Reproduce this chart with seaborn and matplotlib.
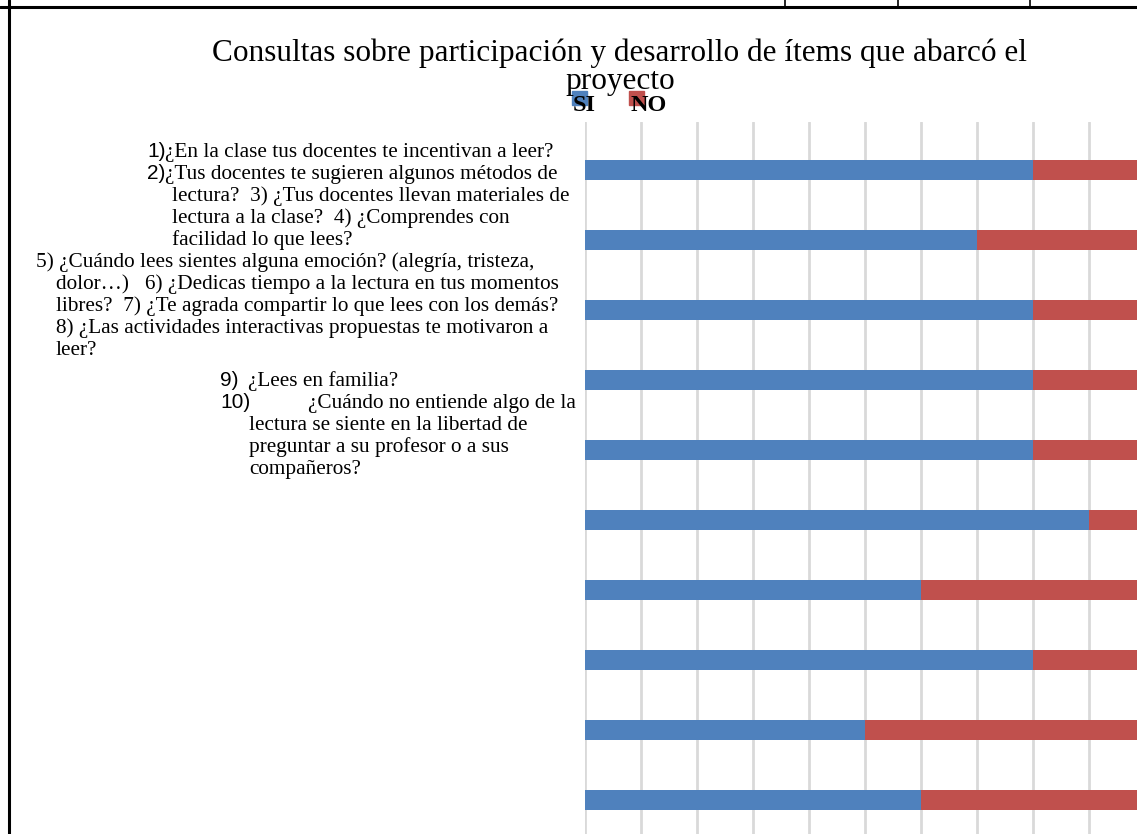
import matplotlib
matplotlib.use("Agg")
import matplotlib.pyplot as plt
import seaborn as sns
import pandas as pd
from matplotlib.lines import Line2D
from matplotlib.patches import Rectangle

# ---------------- data ----------------
questions = ["P1", "P2", "P3", "P4", "P5", "P6", "P7", "P8", "P9", "P10"]
si_values = [8, 7, 8, 8, 8, 9, 6, 8, 5, 6]
no_values = [2, 3, 2, 2, 2, 1, 4, 2, 5, 4]
series_names = ["SI", "NO"]
title_lines = ["Consultas sobre participación y desarrollo de ítems que abarcó el",
               "proyecto"]
# (numero en sans, texto en serif)
label_lines = [
    ("1)", "¿En la clase tus docentes te incentivan a leer?"),
    ("2)", "¿Tus docentes te sugieren algunos métodos de"),
    ("", "lectura?  3) ¿Tus docentes llevan materiales de"),
    ("", "lectura a la clase?  4) ¿Comprendes con"),
    ("", "facilidad lo que lees?"),
    ("", "5) ¿Cuándo lees sientes alguna emoción? (alegría, tristeza,"),
    ("", "dolor…)   6) ¿Dedicas tiempo a la lectura en tus momentos"),
    ("", "libres?  7) ¿Te agrada compartir lo que lees con los demás?"),
    ("", "8) ¿Las actividades interactivas propuestas te motivaron a"),
    ("", "leer?"),
    ("9)", "¿Lees en familia?"),
    ("10)", "¿Cuándo no entiende algo de la"),
    ("", "lectura se siente en la libertad de"),
    ("", "preguntar a su profesor o a sus"),
    ("", "compañeros?"),
]

# ---------------- style ----------------
BLUE = "#4F81BD"
RED = "#C0504D"
GRID = "#D9D9D9"
sns.set_theme(style="white")
plt.rcParams['font.family'] = ['Liberation Serif', 'DejaVu Serif']
plt.rcParams['text.color'] = 'black'

W, H = 1137, 834
fig = plt.figure(figsize=(W / 100, H / 100), dpi=100)
fig.patch.set_facecolor("white")


def fx(x):
    return x / W


def fy(y):
    return 1 - y / H


# ---------------- chart ----------------
ax = fig.add_axes([fx(585), 0, 560 / W, (834 - 122) / H])
df = pd.DataFrame({"q": questions, "si": si_values,
                   "total": [a + b for a, b in zip(si_values, no_values)]})
sns.barplot(data=df, y="q", x="total", color=RED, width=0.29, ax=ax,
            orient="h", saturation=1, linewidth=0)
sns.barplot(data=df, y="q", x="si", color=BLUE, width=0.29, ax=ax,
            orient="h", saturation=1, linewidth=0)
ax.set_xlim(0, 10)
ax.set_ylim(9.486, -0.686)
ax.set_xticks(range(0, 11))
ax.xaxis.grid(True, color=GRID, lw=2)
ax.yaxis.grid(False)
ax.set_axisbelow(True)
ax.tick_params(left=False, bottom=False, labelleft=False, labelbottom=False)
ax.set_xlabel("")
ax.set_ylabel("")
for s in ax.spines.values():
    s.set_visible(False)
ax.set_facecolor("none")

# ---------------- title ----------------
fig.text(fx(620), fy(61), title_lines[0], ha="center", va="baseline", fontsize=22.5)
fig.text(fx(620), fy(89), title_lines[1], ha="center", va="baseline", fontsize=22.5)

# ---------------- legend ----------------
for (x0, xt, name, col) in [(572, 573, series_names[0], BLUE),
                            (629, 631, series_names[1], RED)]:
    fig.patches.append(Rectangle((fx(x0), fy(105)), 15 / W, 14 / H,
                                 transform=fig.transFigure, color=col, zorder=1))
    fig.text(fx(xt), fy(111), name, ha="left", va="baseline",
             fontsize=17.5, fontweight="bold", zorder=2)

# ---------------- category text block ----------------
layout = [  # (x number, x text, baseline y)
    (147, 165, 157), (147, 165, 179), (None, 172, 201), (None, 172, 223),
    (None, 172, 245), (None, 36, 267), (None, 56, 289), (None, 56, 311),
    (None, 56, 333), (None, 56, 355), (220, 248, 386), (220, 308, 408),
    (None, 249, 430), (None, 249, 452), (None, 249, 474),
]
for (num, txt), (xn, xt, yb) in zip(label_lines, layout):
    if num:
        fig.text(fx(xn), fy(yb), num, ha="left", va="baseline", fontsize=15,
                 family=["Liberation Sans", "DejaVu Sans"])
    fig.text(fx(xt), fy(yb), txt, ha="left", va="baseline", fontsize=15.3)

# ---------------- table borders ----------------
fig.add_artist(Line2D([0, 1], [fy(7), fy(7)], transform=fig.transFigure,
                      color="black", lw=2.2))
fig.add_artist(Line2D([fx(9), fx(9)], [0, 1], transform=fig.transFigure,
                      color="black", lw=2.2))
for xv in [785, 898, 1030]:
    fig.add_artist(Line2D([fx(xv), fx(xv)], [fy(7), 1], transform=fig.transFigure,
                          color="black", lw=1.2))

fig.savefig("out.png", dpi=100)
